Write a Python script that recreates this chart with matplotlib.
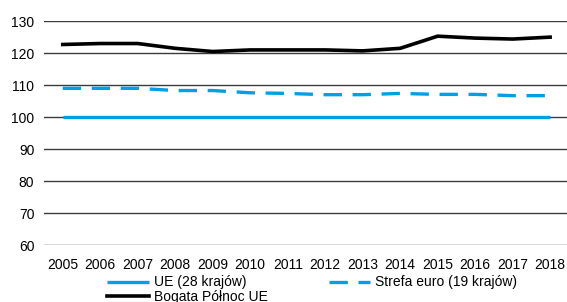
import numpy as np
import matplotlib
matplotlib.use("Agg")
import matplotlib.pyplot as plt

# dane
lata = [str(r) for r in range(2005, 2019)]
ue28 = [100, 100, 100, 100, 100, 100, 100, 100, 100, 100, 100, 100, 100, 100]
strefa_euro = [109, 109, 109, 108.3, 108.3, 107.6, 107.4, 107, 107, 107.4, 107.1, 107.1, 106.7, 106.7]
bogata_polnoc = [122.7, 123, 123, 121.5, 120.5, 121, 121, 121, 120.7, 121.5, 125.3, 124.7, 124.4, 125]
y_ticks = [60, 70, 80, 90, 100, 110, 120, 130]

plt.rcParams["font.family"] = ["Liberation Sans", "DejaVu Sans"]
niebieski = "#009FE3"

fig = plt.figure(figsize=(5.67, 3.02), dpi=100)
ax = fig.add_axes([0.0776, 0.1887, 0.9224, 0.7413])

x = np.arange(len(lata))
for y in y_ticks:
    ax.axhline(y, color="#3a3a3a", lw=1.0, zorder=1)

l1, = ax.plot(x, ue28, color=niebieski, lw=2.4, solid_capstyle="butt", zorder=3, clip_on=False)
l2, = ax.plot(x, strefa_euro, color=niebieski, lw=2.4, dashes=(5.5, 3.2), zorder=3, clip_on=False)
l3, = ax.plot(x, bogata_polnoc, color="black", lw=2.6, zorder=4, clip_on=False)

ax.set_xlim(-0.5, 13.45)
ax.set_ylim(60, 130)
ax.set_xticks(x)
ax.set_xticklabels(lata)
ax.set_yticks(y_ticks)
ax.tick_params(axis="both", length=0, labelsize=10, colors="black")
ax.tick_params(axis="x", pad=9)
ax.tick_params(axis="y", pad=7)
for s in ax.spines.values():
    s.set_visible(False)

fig.legend([l1, l3, l2], ["UE (28 krajów)", "Bogata Północ UE", "Strefa euro (19 krajów)"],
           ncol=2, loc="upper left", bbox_to_anchor=(0.189, 0.088), frameon=False,
           fontsize=10, handlelength=3.0, handletextpad=0.36, columnspacing=4.4,
           labelspacing=0.05, borderaxespad=0, borderpad=0)

fig.savefig("out.png", dpi=100)
